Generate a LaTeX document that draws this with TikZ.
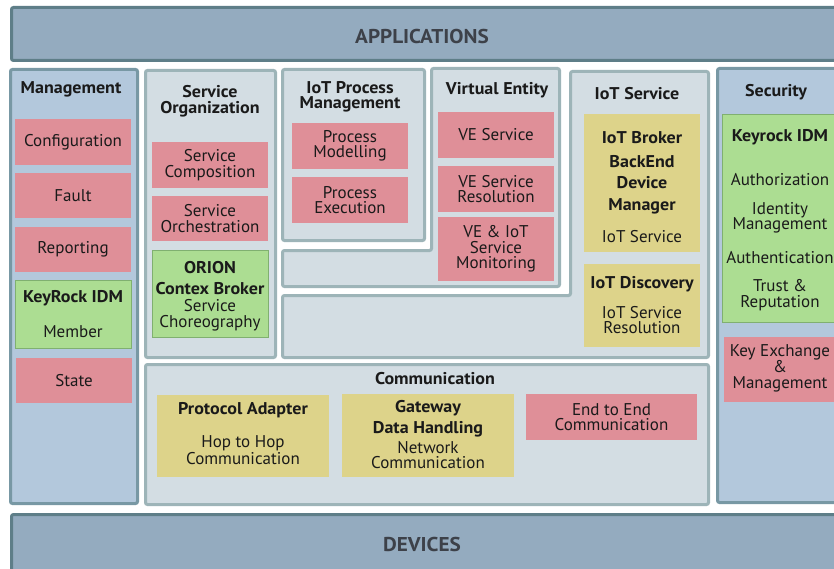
\documentclass[tikz,border=0pt]{standalone}
\usepackage{fontspec}
\setmainfont{PT Sans}[BoldFeatures={FakeStretch=1.06}]
\definecolor{barfill}{HTML}{94ABBF}
\definecolor{barline}{HTML}{5E7E88}
\definecolor{sidefill}{HTML}{B3C8DC}
\definecolor{sideline}{HTML}{7898A4}
\definecolor{panelfill}{HTML}{D3DDE3}
\definecolor{panelline}{HTML}{9DB4B8}
\definecolor{pinkc}{HTML}{DF8F98}
\definecolor{greenc}{HTML}{ACDD92}
\definecolor{greenline}{HTML}{80B070}
\definecolor{yellowc}{HTML}{DDD38A}
\definecolor{txt}{HTML}{1A1A1A}
\definecolor{bartxt}{HTML}{3D4149}
\tikzset{
  bar/.style={draw=barline, fill=barfill, line width=3pt, rounded corners=2pt},
  side/.style={draw=sideline, fill=sidefill, line width=3pt, rounded corners=2pt},
  panel/.style={draw=panelline, fill=panelfill, line width=3pt, rounded corners=2pt},
  boxbase/.style={draw=none, inner sep=0pt, outer sep=0pt, text=txt, align=center,
     font=\fontsize{17}{15.5}\selectfont},
  pinkbox/.style={boxbase, fill=pinkc},
  greenbox/.style={boxbase, fill=greenc, draw=greenline, line width=0.8pt},
  yellowbox/.style={boxbase, fill=yellowc},
  ttl/.style={text=txt, align=center, inner sep=0pt, font=\fontsize{17}{15.5}\selectfont\bfseries},
  lbl/.style={text=txt, align=center, inner sep=0pt, font=\fontsize{17}{15.5}\selectfont},
  bartitle/.style={text=bartxt, inner sep=0pt, font=\fontsize{20}{20}\selectfont\bfseries},
}
\begin{document}
\begin{tikzpicture}[x=1pt,y=-1pt]
\useasboundingbox (0,0) rectangle (834,569);
\clip (0,0) rectangle (834,569);
\fill[white] (0,0) rectangle (834,569);
% bars
\draw[bar] (11.5,7.5) rectangle (860,60.5);
\node[bartitle] (apps) at (422,36.5) {APPLICATIONS};
\draw[bar] (11.5,514.5) rectangle (860,600);
\node[bartitle] (devs) at (422,544.5) {DEVICES};
% side panels
\draw[side] (10.5,69.5) rectangle (137.5,503.5);
\draw[side] (717.5,68.5) rectangle (860,502.5);
% inner panels
\draw[panel] (145.5,70.5) rectangle (275.5,357.5);
\draw[panel] (282.5,69.5) rectangle (424.5,240.5);
\draw[panel] (282.5,250.5) -- (431.5,250.5) -- (431.5,68.5) -- (559.5,68.5) -- (559.5,286.5) -- (282.5,286.5) -- cycle;
\draw[panel] (282.5,295.5) -- (570.5,295.5) -- (570.5,71.5) -- (708.5,71.5) -- (708.5,357.5) -- (282.5,357.5) -- cycle;
\draw[panel] (145.5,364.5) rectangle (708.5,504.5);
% titles
\node[ttl] (tmgmt) at (71,89.5) {Management};
\node[ttl] (tso) at (210,101) {Service\\Organization};
\node[ttl] (tipm) at (350,97) {IoT Process\\Management};
\node[ttl] (tve) at (497,90.5) {Virtual Entity};
\node[ttl] (tios) at (637,93.5) {IoT Service};
\node[ttl] (tsec) at (776,92.5) {Security};
\node[ttl] (tcom) at (435,378.5) {Communication};
% management boxes
\node[pinkbox, minimum width=116pt, minimum height=46pt] (conf) at (73,142) {Configuration};
\node[pinkbox, minimum width=116pt, minimum height=45pt] (fault) at (73,195.5) {Fault};
\node[pinkbox, minimum width=116pt, minimum height=45pt] (rep) at (73,249) {Reporting};
\node[greenbox, minimum width=116pt, minimum height=68pt] (kr1) at (73,314) {};
\node[ttl] (kr1a) at (73,298.5) {KeyRock IDM};
\node[lbl] (kr1b) at (73,331.5) {Member};
\node[pinkbox, minimum width=116pt, minimum height=45pt] (state) at (74,380.5) {State};
% service organization
\node[pinkbox, minimum width=116pt, minimum height=46pt] (scomp) at (210,165) {Service\\Composition};
\node[pinkbox, minimum width=116pt, minimum height=45pt] (sorch) at (210,218.5) {Service\\Orchestration};
\node[greenbox, minimum width=116pt, minimum height=87pt] (orion) at (210,293.5) {};
\node[ttl] (oriona) at (210,267.5) {ORION};
\node[ttl] (orionb) at (210,288.5) {Contex Broker};
\node[lbl] (orionc) at (210,315) {Service\\Choreography};
% iot process management
\node[pinkbox, minimum width=116pt, minimum height=46pt] (pmod) at (350,146) {Process\\Modelling};
\node[pinkbox, minimum width=116pt, minimum height=46pt] (pexe) at (350,200) {Process\\Execution};
% virtual entity
\node[pinkbox, minimum width=116pt, minimum height=46pt] (ves) at (496,135) {VE Service};
\node[pinkbox, minimum width=116pt, minimum height=46pt] (vesr) at (496,189) {VE Service\\Resolution};
\node[pinkbox, minimum width=116pt, minimum height=64pt] (vemon) at (496,249) {VE \& IoT\\Service\\Monitoring};
% iot service
\node[yellowbox, minimum width=116pt, minimum height=138pt] (broker) at (642,183) {};
\node[ttl] (brokera) at (642,137.5) {IoT Broker};
\node[ttl, font=\fontsize{17}{21.5}\selectfont\bfseries] (brokerb) at (642,184.5) {BackEnd\\Device\\Manager};
\node[lbl] (brokerc) at (642,236.5) {IoT Service};
\node[yellowbox, minimum width=116pt, minimum height=83pt] (disc) at (642,305.5) {};
\node[ttl] (disca) at (642,284.5) {IoT Discovery};
\node[lbl] (discb) at (642,320) {IoT Service\\Resolution};
% security
\node[greenbox, minimum width=140pt, minimum height=208pt] (kr2) at (792,218) {};
\node[ttl] (kr2a) at (780,137.5) {Keyrock IDM};
\node[lbl] (kr2b) at (780,179.5) {Authorization};
\node[lbl] (kr2c) at (780,218) {Identity\\Management};
\node[lbl] (kr2d) at (780,257.5) {Authentication};
\node[lbl] (kr2e) at (780,295) {Trust \&\\Reputation};
\node[pinkbox, minimum width=140pt, minimum height=65pt] (kex) at (794,369.5) {};
\node[lbl] (kexa) at (780,368) {Key Exchange\\\&\\Management};
% communication
\node[yellowbox, minimum width=172pt, minimum height=82pt] (pa) at (243,436) {};
\node[ttl] (paa) at (243,410.5) {Protocol Adapter};
\node[lbl] (pab) at (243,450) {Hop to Hop\\Communication};
\node[yellowbox, minimum width=172pt, minimum height=83pt] (gw) at (428,435.5) {};
\node[ttl, font=\fontsize{17}{21}\selectfont\bfseries] (gwa) at (428,418.5) {Gateway\\Data Handling};
\node[lbl] (gwb) at (428,455) {Network\\Communication};
\node[pinkbox, minimum width=171pt, minimum height=46pt] (e2e) at (611.5,417) {End to End\\Communication};
\end{tikzpicture}
\end{document}
